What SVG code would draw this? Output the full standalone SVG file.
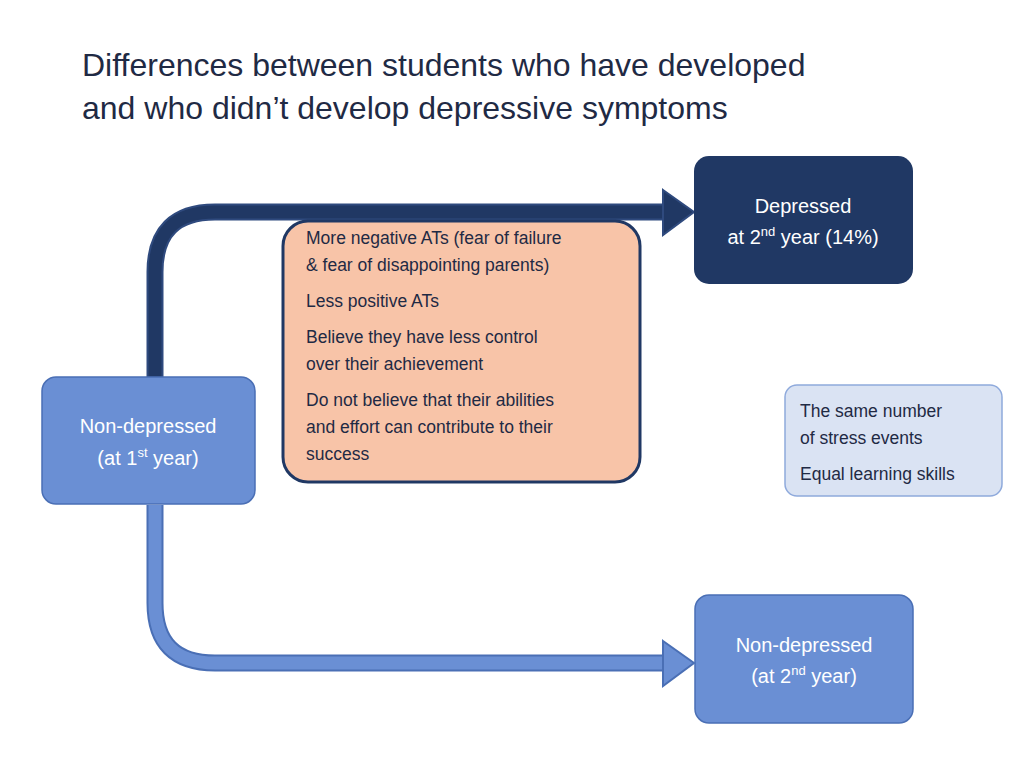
<svg xmlns="http://www.w3.org/2000/svg" width="1024" height="768" viewBox="0 0 1024 768">
<style>
.t{font-family:"Liberation Sans",Arial,sans-serif}
.w{fill:#fff;font-size:20px;text-anchor:middle}
.d{fill:#1f2a44;font-size:17.5px}
.title{fill:#1f2a44;font-size:32px}
</style>
<rect width="1024" height="768" fill="#fff"/>
<g id="title" class="t title">
<text x="82" y="76">Differences between students who have developed</text>
<text x="82" y="119">and who didn’t develop depressive symptoms</text>
</g>
<g id="connectors">
<path d="M155,377 V272 Q155,212 215,212 H665" fill="none" stroke="#2f4a7e" stroke-width="17"/>
<path d="M155,377 V272 Q155,212 215,212 H665" fill="none" stroke="#203864" stroke-width="13"/>
<polygon points="663,190 694,212 663,235" fill="#203864" stroke="#2f4a7e" stroke-width="2"/>
<path d="M155,505 V603 Q155,663 215,663 H665" fill="none" stroke="#4a6fb5" stroke-width="17"/>
<path d="M155,505 V603 Q155,663 215,663 H665" fill="none" stroke="#6a8fd4" stroke-width="13"/>
<polygon points="663,641 694,663 663,686" fill="#6a8fd4" stroke="#4a6fb5" stroke-width="2"/>
</g>
<g id="depressed">
<rect x="694" y="156" width="219" height="128" rx="15" fill="#203864"/>
<text class="t w" x="803" y="213">Depressed</text>
<text class="t w" x="803" y="244">at 2<tspan font-size="13" dy="-8">nd</tspan><tspan dy="8"> year (14%)</tspan></text>
</g>
<g id="nondep1">
<rect x="42" y="377" width="213" height="127" rx="14" fill="#6a8fd4" stroke="#4a6fb5" stroke-width="1.5"/>
<text class="t w" x="148" y="433">Non-depressed</text>
<text class="t w" x="148" y="465">(at 1<tspan font-size="13" dy="-8">st</tspan><tspan dy="8"> year)</tspan></text>
</g>
<g id="factors">
<rect x="283" y="221" width="357" height="261" rx="25" fill="#f8c4a8" stroke="#203864" stroke-width="3"/>
<g class="t d">
<text x="306" y="244">More negative ATs (fear of failure</text>
<text x="306" y="271">&amp; fear of disappointing parents)</text>
<text x="306" y="307">Less positive ATs</text>
<text x="306" y="343">Believe they have less control</text>
<text x="306" y="370">over their achievement</text>
<text x="306" y="406">Do not believe that their abilities</text>
<text x="306" y="433">and effort can contribute to their</text>
<text x="306" y="460">success</text>
</g>
</g>
<g id="same">
<rect x="785" y="385" width="217" height="111" rx="12" fill="#dae3f3" stroke="#8faadc" stroke-width="1.5"/>
<g class="t d">
<text x="800" y="417">The same number</text>
<text x="800" y="444">of stress events</text>
<text x="800" y="480">Equal learning skills</text>
</g>
</g>
<g id="nondep2">
<rect x="695" y="595" width="218" height="128" rx="14" fill="#6a8fd4" stroke="#4a6fb5" stroke-width="1.5"/>
<text class="t w" x="804" y="652">Non-depressed</text>
<text class="t w" x="804" y="683">(at  2<tspan font-size="13" dy="-8">nd</tspan><tspan dy="8"> year)</tspan></text>
</g>
</svg>
